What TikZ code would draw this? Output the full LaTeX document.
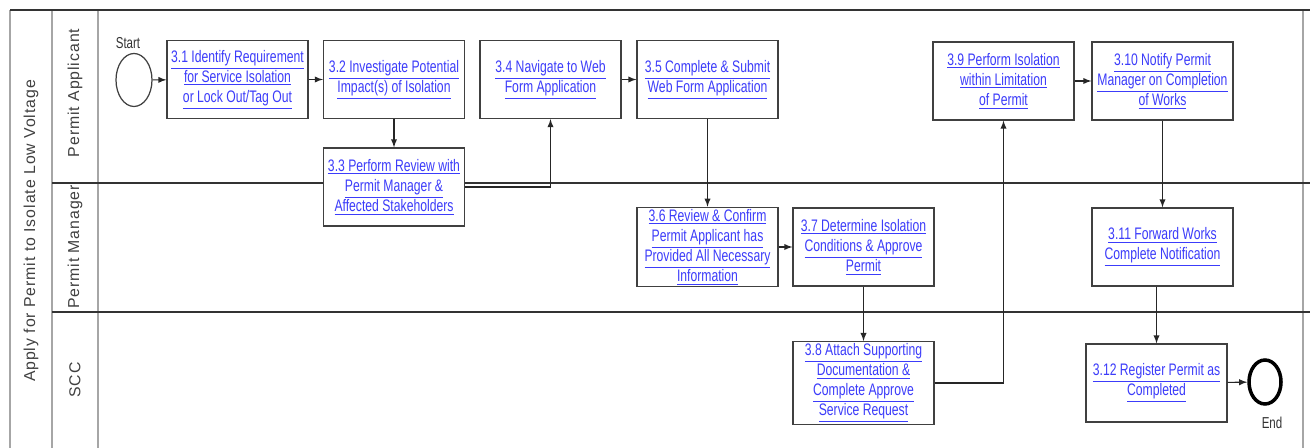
\documentclass[tikz,border=0pt]{standalone}
\usepackage{fontspec}
\setmainfont{Liberation Sans}
\newfontfamily\narrowfont[FakeStretch=0.73]{Liberation Sans}
\newfontfamily\lanefont[LetterSpace=6]{Liberation Sans}
\usetikzlibrary{shapes.geometric}
\definecolor{linkblue}{RGB}{60,60,250}
\newcommand{\lnk}[1]{\underline{#1}}

\begin{document}
\begin{tikzpicture}[x=0.02cm, y=-0.02cm, >=latex,
	task/.style={draw=black!75, line width=0.7pt, fill=white, minimum width=2.82cm,
		minimum height=1.56cm, inner sep=1pt, align=center, text=linkblue,
		font=\narrowfont\fontsize{9.5}{11.4}\selectfont},
	lane/.style={rotate=90, text=black!75, font=\lanefont\fontsize{9}{11}\selectfont},
	small/.style={text=black!80, font=\narrowfont\fontsize{9}{10}\selectfont},
	flow/.style={->, draw=black!85, line width=0.6pt}]

			\useasboundingbox (0,0) rectangle (1310,448);

			% frame and lanes
			\draw [gray!70, line width=1.4pt] (10,448) -- (10,10);
			\draw [gray!70, line width=1.4pt] (52,10) -- (52,448);
			\draw [gray!70, line width=1.4pt] (98,10) -- (98,448);
			\draw [gray!70, line width=1.4pt] (1303,10) -- (1303,448);
			\draw [black!80, line width=1pt] (10,10) -- (1310,10);
			\foreach \y in {183,312}
				\draw [black!80, line width=1pt] (52,\y) -- (1310,\y);

			% lane titles
			\node [lane] (process) at (31,231) {Apply for Permit to Isolate Low Voltage};
			\foreach \l/\y [count=\i] in {Permit Applicant/93, Permit Manager/247, SCC/380}
				\node [lane] (lane-\i) at (75,\y) {\l};

			% start and end
			\node [ellipse, draw=black!75, line width=0.7pt, minimum width=0.72cm,
				minimum height=1.06cm, inner sep=0pt] (start) at (134,80) {};
			\node [small] (start-label) at (128,43) {Start};
			\node [ellipse, draw=black, line width=2pt, minimum width=0.64cm,
				minimum height=0.88cm, inner sep=0pt] (end) at (1265,382) {};
			\node [small] (end-label) at (1272,423) {End};

			% permit applicant
			\node [task] (task-1) at (237.5,79.5) {\lnk{3.1 Identify Requirement}\\ \lnk{for Service Isolation}\\ \lnk{or Lock Out/Tag Out}};
			\node [task] (task-2) at (394,79.5) {\lnk{3.2 Investigate Potential}\\ \lnk{Impact(s) of Isolation}};
			\node [task] (task-3) at (394,187) {\lnk{3.3 Perform Review with}\\ \lnk{Permit Manager \&}\\ \lnk{Affected Stakeholders}};
			\node [task] (task-4) at (550.5,79.5) {\lnk{3.4 Navigate to Web}\\ \lnk{Form Application}};
			\node [task] (task-5) at (707.5,79.5) {\lnk{3.5 Complete \& Submit}\\ \lnk{Web Form Application}};
			\node [task] (task-9) at (1003.5,81) {\lnk{3.9 Perform Isolation}\\ \lnk{within Limitation}\\ \lnk{of Permit}};
			\node [task] (task-10) at (1162.5,81) {\lnk{3.10 Notify Permit}\\ \lnk{Manager on Completion}\\ \lnk{of Works}};

			% permit manager
			\node [task] (task-6) at (707.5,247) {\lnk{3.6 Review \& Confirm}\\ \lnk{Permit Applicant has}\\ \lnk{Provided All Necessary}\\ \lnk{Information}};
			\node [task] (task-7) at (863.5,247) {\lnk{3.7 Determine Isolation}\\ \lnk{Conditions \& Approve}\\ \lnk{Permit}};
			\node [task] (task-11) at (1162.5,247) {\lnk{3.11 Forward Works}\\ \lnk{Complete Notification}};

			% scc
			\node [task] (task-8) at (863.5,383) {\lnk{3.8 Attach Supporting}\\ \lnk{Documentation \&}\\ \lnk{Complete Approve}\\ \lnk{Service Request}};
			\node [task] (task-12) at (1156.5,383) {\lnk{3.12 Register Permit as}\\ \lnk{Completed}};

			% flows
			\draw [flow] (start) -- (task-1);
			\foreach \i/\j in {1/2,2/3,4/5,5/6,6/7,7/8,9/10,10/11}
				\draw [flow] (task-\i) -- (task-\j);
			\draw [flow] (task-3.east) -| (task-4.south);
			\draw [flow] (task-8.east) -| (task-9.south);
			\draw [flow] (task-11.south -| task-12.north) -- (task-12.north);
			\draw [flow] (task-12) -- (end);

\end{tikzpicture}
\end{document}
